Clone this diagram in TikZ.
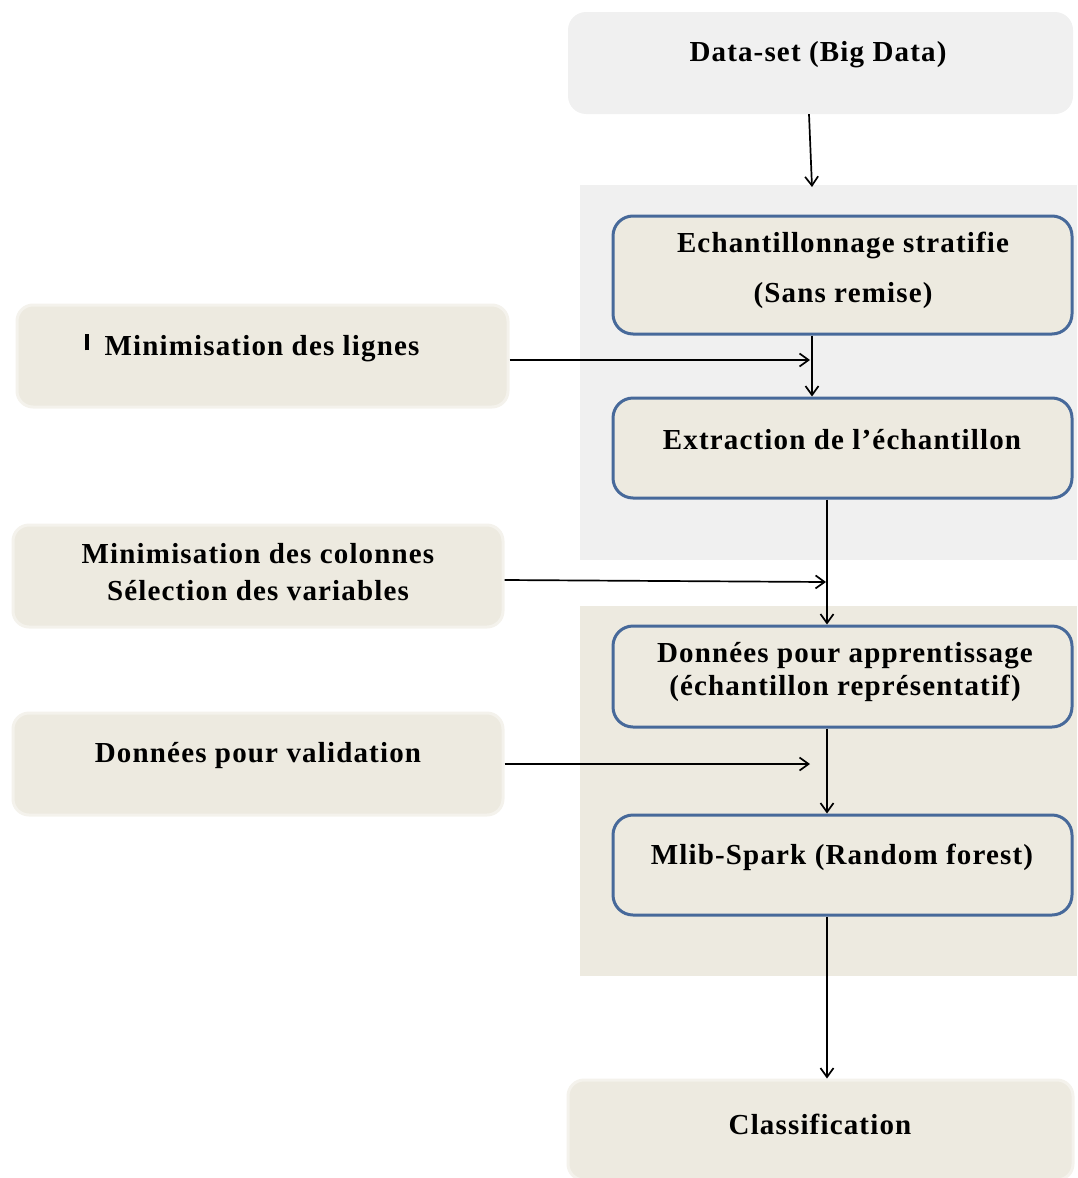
\documentclass[tikz,border=0pt]{standalone}
\usepackage{fontspec}
\setmainfont{Liberation Serif}
\newfontfamily\spacedfont[LetterSpace=4]{Liberation Serif}
\usetikzlibrary{arrows.meta}
\definecolor{panelgray}{HTML}{F0F0F0}
\definecolor{beige}{HTML}{EDEAE0}
\definecolor{boxblue}{HTML}{47699A}
\definecolor{glow}{HTML}{F4F2EC}
\begin{document}
\begin{tikzpicture}[x=1pt,y=-1pt,
  txt/.style={font=\spacedfont\fontsize{29}{35}\selectfont\bfseries, align=center, inner sep=0pt},
  bluebox/.style={draw=boxblue, line width=3pt, fill=beige, rounded corners=20pt, minimum width=459pt, inner sep=0pt},
  plainbox/.style={fill=beige, draw=glow, line width=3pt, rounded corners=16pt, inner sep=0pt},
  graybox/.style={fill=panelgray, rounded corners=18pt, inner sep=0pt},
  arr/.style={-{Straight Barb[length=9pt,width=13pt]}, line width=1.7pt}]
\useasboundingbox (0,0) rectangle (1077,1178);
% panels
\fill[panelgray] (580,185) rectangle (1077,560);
\fill[beige] (580,606) rectangle (1077,976);
% top and bottom boxes
\node[graybox, minimum width=505pt, minimum height=102pt] (ds) at (820.5,63) {};
\node[txt] (dst) at (818,55) {Data-set (Big Data)};
\node[plainbox, minimum width=505pt, minimum height=100pt] (cl) at (820.5,1130) {};
\node[txt] (clt) at (820,1124) {Classification};
% blue boxes
\node[bluebox, minimum height=118pt] (ech) at (842.5,275) {};
\node[txt] (echt1) at (843,245) {Echantillonnage stratifie};
\node[txt] (echt2) at (843,296) {(Sans remise)};
\node[bluebox, minimum height=100pt] (ext) at (842.5,448) {};
\node[txt] (extt) at (842,440) {Extraction de l’échantillon};
\node[bluebox, minimum height=101pt] (app) at (842.5,676.5) {};
\node[txt] (appt) at (845,672) {Données pour apprentissage\\[-2pt](échantillon représentatif)};
\node[bluebox, minimum height=100pt] (ml) at (842.5,865) {};
\node[txt] (mlt) at (842,857) {Mlib-Spark (Random forest)};
% left boxes
\node[plainbox, minimum width=491pt, minimum height=102pt] (lig) at (262.5,356) {};
\node[txt] (ligt) at (252,348) {\raisebox{5pt}{\rule{4pt}{16pt}}\hspace{16pt}Minimisation des lignes};
\node[plainbox, minimum width=490pt, minimum height=102pt] (col) at (258,576) {};
\node[txt] (colt) at (258,572) {Minimisation des colonnes\\[2pt]Sélection des variables};
\node[plainbox, minimum width=490pt, minimum height=102pt] (val) at (258,764) {};
\node[txt] (valt) at (258,756) {Données pour validation};
% connectors
\coordinate (p1) at (812,187);
\coordinate (h1) at (810,360);
\coordinate (h2) at (826,582);
\coordinate (h3) at (810,764);
\draw[arr] (ds.south -| 809,0) -- (p1);
\draw[arr] (ech.south -| 812,0) -- (ext.north -| 812,0);
\draw[arr] (lig.east |- h1) -- (h1);
\draw[arr] (ext.south -| 827,0) -- (app.north -| 827,0);
\draw[arr] (col.east |- 0,580) -- (h2);
\draw[arr] (app.south -| 827,0) -- (ml.north -| 827,0);
\draw[arr] (val.east |- h3) -- (h3);
\draw[arr] (ml.south -| 827,0) -- (cl.north -| 827,0);
\end{tikzpicture}
\end{document}
